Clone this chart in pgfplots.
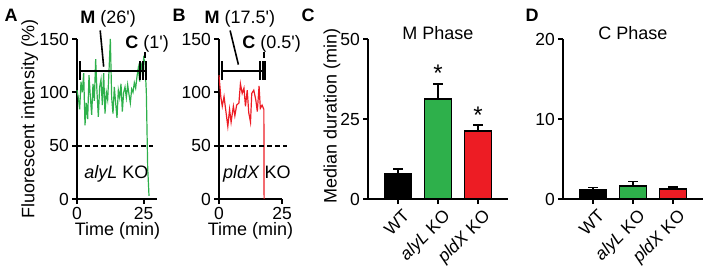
\documentclass[border=0pt]{standalone}
\usepackage{fontspec}
\setmainfont{Liberation Sans}
\usepackage{pgfplots}
\pgfplotsset{compat=1.18}
\definecolor{kogreen}{RGB}{46,176,75}
\definecolor{kored}{RGB}{237,28,36}
\newcommand\fs{\fontsize{18}{21}\selectfont}
\newcommand\ft{\fontsize{17.5}{21}\selectfont}
\pgfplotsset{
  gp/.style={
    scale only axis, anchor=south west, height=160pt,
    axis x line=bottom, axis y line=left, axis line style={-, line width=2pt},
    tick align=outside, major tick length=5pt,
    tick style={line width=2pt, black},
    /pgf/number format/assume math mode=true,
    tick label style={font=\ft},
    yticklabel style={inner sep=3pt},
    label style={font=\fs},
    clip=false,
  },
  catlab/.style={
    xticklabel style={xshift=4pt, yshift=-4pt, rotate=45, anchor=north east, inner sep=0pt},
  },
}
\begin{document}
\begin{tikzpicture}
\useasboundingbox (0,0) rectangle (709pt,265pt);
% panel letters
\node[font=\fontsize{18}{21}\selectfont\bfseries] at (11pt,250pt) {A};
\node[font=\fontsize{18}{21}\selectfont\bfseries] at (179pt,250pt) {B};
\node[font=\fontsize{18}{21}\selectfont\bfseries] at (308pt,250pt) {C};
\node[font=\fontsize{18}{21}\selectfont\bfseries] at (532pt,250pt) {D};

% ---------- A ----------
\begin{axis}[gp, at={(77pt,66pt)}, width=80pt,
  xmin=0, xmax=30, ymin=0, ymax=150,
  xtick={0,25}, ytick={0,50,100,150},
  xlabel={Time (min)}, ylabel={Fluorescent intensity (\%)},
  xlabel style={at={(axis description cs:0.506,-0.197)}, anchor=center},
  ylabel style={at={(axis description cs:-0.59,0.5)}, anchor=center},
]
\addplot[kogreen, line width=1.2pt] coordinates {
(0,102)(0.5,95)(1.0,84)(1.5,110)(2.0,100)(2.5,118)(3.0,69)(3.5,90)(4.0,75)(4.5,116)
(5.0,96)(5.5,79)(6.0,108)(6.5,92)(7.0,131)(7.5,100)(8.0,77)(8.5,105)(9.0,112)(9.5,88)
(10.0,118)(10.5,80)(11.0,100)(11.5,93)(12.0,120)(12.5,150)(13.0,95)(13.5,80)(14.0,105)(14.5,90)
(15.0,76)(15.5,102)(16.0,95)(16.5,108)(17.0,82)(17.5,100)(18.0,105)(18.5,95)(19.0,107)(19.5,98)
(20.0,90)(20.5,103)(21.0,100)(21.5,109)(22.0,104)(22.5,115)(23.0,123)(23.5,110)(24.0,128)(24.5,118)
(25.0,132)(25.5,128)(26.0,100)(26.5,30)(27.0,3)};
\addplot[black, line width=1.8pt, dash pattern=on 5pt off 3pt] coordinates {(0,50)(28.5,50)};
\draw[line width=2pt] (axis cs:1.1,120) -- (axis cs:25.8,120);
\draw[line width=2pt] (axis cs:1.1,112) -- (axis cs:1.1,129);
\draw[line width=2pt] (axis cs:23.8,112) -- (axis cs:23.8,129);
\draw[line width=2pt] (axis cs:24.8,112) -- (axis cs:24.8,129);
\draw[line width=2pt] (axis cs:25.8,112) -- (axis cs:25.8,129);
\draw[line width=1.6pt] (axis cs:8.7,158) -- (axis cs:10.0,124);
\draw[line width=1.6pt] (axis cs:25.4,132) -- (axis cs:25.4,138);
\node[font=\fs] at (axis cs:11.7,169) {\textbf{M} (26\textquotesingle)};
\node[font=\fs] at (axis cs:26.3,145) {\textbf{C} (1\textquotesingle)};
\node[font=\fs] at (axis cs:14.8,23.4) {\textit{alyL} KO};
\end{axis}

% ---------- B ----------
\begin{axis}[gp, at={(219pt,66pt)}, width=63pt,
  xmin=0, xmax=25, ymin=0, ymax=150,
  xtick={0,25}, ytick={0,50,100,150},
  xlabel={Time (min)},
  xlabel style={at={(axis description cs:0.5,-0.197)}, anchor=center},
]
\addplot[kored, line width=1.2pt] coordinates {
(0,116)(0.7,96)(1.3,87)(2.0,96)(2.8,81)(3.5,68)(4.2,84)(4.8,72)(5.7,87)(6.3,78)
(7.0,88)(7.9,90)(8.5,108)(9.2,99)(9.9,104)(10.5,87)(11.2,102)(11.8,81)(12.5,72)(13.0,99)
(13.8,102)(14.6,93)(15.2,82)(15.9,106)(16.4,85)(17.1,88)(17.8,84)(17.9,0)};
\addplot[black, line width=1.8pt, dash pattern=on 5pt off 3pt] coordinates {(0,50)(27,50)};
\draw[line width=2pt] (axis cs:1.3,120) -- (axis cs:18.3,120);
\draw[line width=2pt] (axis cs:1.3,112) -- (axis cs:1.3,129);
\draw[line width=2pt] (axis cs:16.3,112) -- (axis cs:16.3,129);
\draw[line width=2pt] (axis cs:17.3,112) -- (axis cs:17.3,129);
\draw[line width=2pt] (axis cs:18.3,112) -- (axis cs:18.3,129);
\draw[line width=1.6pt] (axis cs:4.4,158) -- (axis cs:7.7,126);
\draw[line width=1.6pt] (axis cs:17.9,132) -- (axis cs:17.9,138);
\node[font=\fs] at (axis cs:8.3,169) {\textbf{M} (17.5\textquotesingle)};
\node[font=\fs] at (axis cs:20.9,145) {\textbf{C} (0.5\textquotesingle)};
\node[font=\fs] at (axis cs:15,23.4) {\textit{pldX} KO};
\end{axis}

% ---------- C ----------
\begin{axis}[gp, catlab, at={(368pt,66pt)}, width=140pt,
  xmin=-0.75, xmax=2.75, ymin=0, ymax=50,
  xtick={0,1,2}, xticklabels={WT,\textit{alyL} KO,\textit{pldX} KO},
  ytick={0,25,50},
  ylabel={Median duration (min)},
  ylabel style={at={(axis description cs:-0.257,0.52)}, anchor=center},
  error bars/error bar style={line width=1.8pt, black},
  error bars/error mark options={rotate=90, mark size=5pt, line width=1.8pt, black},
]
\addplot[ybar, bar width=27pt, bar shift=0pt, fill=black, draw=black, line width=1.8pt,
  error bars/.cd, y dir=plus, y explicit] coordinates {(0,8.0) +- (0,1.3)};
\addplot[ybar, bar width=27pt, bar shift=0pt, fill=kogreen, draw=black, line width=1.8pt,
  error bars/.cd, y dir=plus, y explicit] coordinates {(1,31.3) +- (0,4.6)};
\addplot[ybar, bar width=27pt, bar shift=0pt, fill=kored, draw=black, line width=1.8pt,
  error bars/.cd, y dir=plus, y explicit] coordinates {(2,21.3) +- (0,1.8)};
\node[font=\fontsize{24}{26}\selectfont, inner sep=0pt, anchor=north] at (axis cs:1,41.9) {*};
\node[font=\fontsize{24}{26}\selectfont, inner sep=0pt, anchor=north] at (axis cs:2,28.8) {*};
\node[font=\fs] at (axis cs:1,51.9) {M Phase};
\end{axis}

% ---------- D ----------
\begin{axis}[gp, catlab, at={(563pt,66pt)}, width=140pt,
  xmin=-0.75, xmax=2.75, ymin=0, ymax=20,
  xtick={0,1,2}, xticklabels={WT,\textit{alyL} KO,\textit{pldX} KO},
  ytick={0,10,20},
  error bars/error bar style={line width=1.8pt, black},
  error bars/error mark options={rotate=90, mark size=5pt, line width=1.8pt, black},
]
\addplot[ybar, bar width=27pt, bar shift=0pt, fill=black, draw=black, line width=1.8pt,
  error bars/.cd, y dir=plus, y explicit] coordinates {(0,1.1) +- (0,0.35)};
\addplot[ybar, bar width=27pt, bar shift=0pt, fill=kogreen, draw=black, line width=1.8pt,
  error bars/.cd, y dir=plus, y explicit] coordinates {(1,1.65) +- (0,0.55)};
\addplot[ybar, bar width=27pt, bar shift=0pt, fill=kored, draw=black, line width=1.8pt,
  error bars/.cd, y dir=plus, y explicit] coordinates {(2,1.2) +- (0,0.35)};
\node[font=\fs] at (axis cs:1,20.75) {C Phase};
\end{axis}
\end{tikzpicture}
\end{document}
